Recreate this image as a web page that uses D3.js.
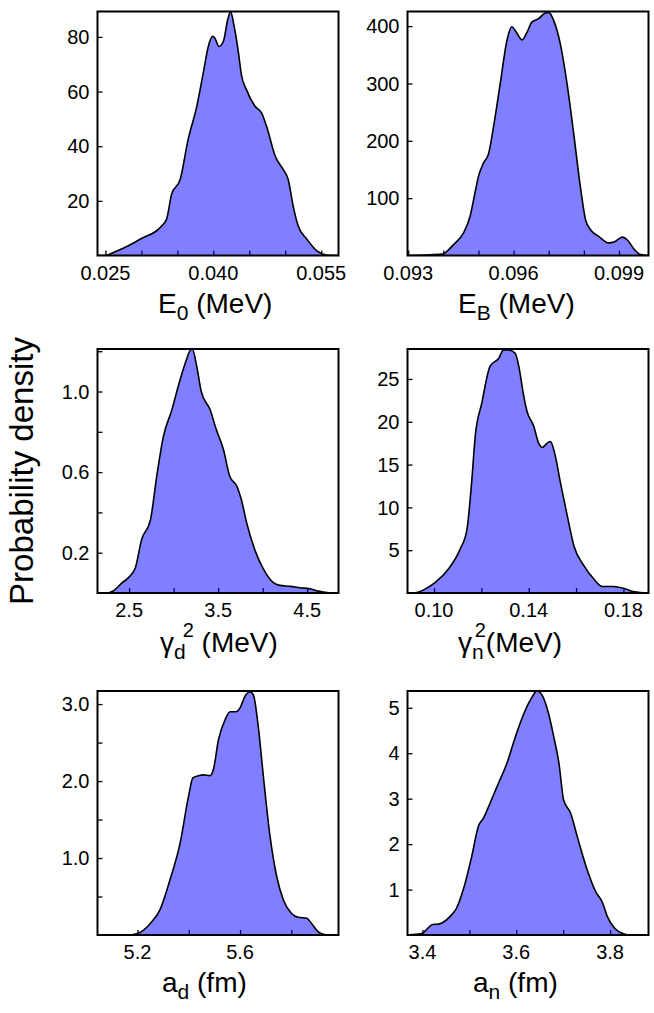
<!DOCTYPE html>
<html><head><meta charset="utf-8">
<script src="https://cdn.jsdelivr.net/npm/d3@7"></script>
<style>
body{margin:0;background:#fff}
text{font-family:"Liberation Sans",Arial,Helvetica,sans-serif;fill:#000}
</style>
</head><body>
<svg id="chart" width="654" height="1013"></svg>
<script>
// ---------- data ----------
const e0X = [0.0239,0.0250,0.0261,0.0277,0.0300,0.0326,0.0335,0.0342,0.0354,0.0365,0.0377,0.0386,0.0393,0.0399,0.0402,0.0408,0.0414,0.0420,0.0424,0.0429,0.0435,0.0439,0.0446,0.0458,0.0467,0.0474,0.0486,0.0497,0.0504,0.0511,0.0518,0.0530,0.0544,0.0557,0.0574];
const e0Y = [0,0,1.1,2.9,6.2,10.2,13.3,22.4,27.9,42.5,54.6,66.8,76.5,80.2,79.6,76.5,78.4,86.3,89.2,83.8,74.1,66.2,60.7,54.6,52.2,47.3,36.4,31.5,27.9,18.1,10.8,6.0,1.7,0.2,0];

const ebX = [0.09298,0.0939,0.0940,0.09429,0.09457,0.09476,0.0949,0.0950,0.09514,0.09529,0.09543,0.09562,0.09581,0.09595,0.09605,0.09624,0.09638,0.09652,0.09671,0.09690,0.0970,0.09714,0.09733,0.09752,0.09771,0.0979,0.09805,0.09819,0.09843,0.09871,0.09886,0.0991,0.09924,0.09943,0.09962,0.09984];
const ebY = [0,2,3,19,39,68,109,138,161,178,225,300,375,399,392,376,389,407,413,423,424,410,369,300,213,120,62,45,33,22,23.5,32,27,11,1.5,0];

const gdX = [2.15,2.25,2.32,2.42,2.51,2.57,2.64,2.74,2.81,2.885,2.98,3.05,3.13,3.19,3.21,3.26,3.31,3.41,3.48,3.56,3.63,3.71,3.76,3.82,3.91,4.01,4.12,4.19,4.31,4.42,4.53,4.62,4.72,4.85];
const gdY = [0,0,0.01,0.05,0.084,0.125,0.265,0.364,0.579,0.777,0.909,1.024,1.14,1.206,1.21,1.123,1.0,0.909,0.81,0.711,0.579,0.53,0.464,0.348,0.216,0.117,0.051,0.038,0.033,0.026,0.021,0.01,0.002,0];

const gnX = [0.0888,0.0891,0.0927,0.0962,0.1004,0.1061,0.1110,0.1139,0.1160,0.1174,0.1202,0.1237,0.1273,0.1294,0.1315,0.1343,0.1358,0.1379,0.1393,0.1421,0.1442,0.1457,0.1478,0.1492,0.1509,0.1534,0.1563,0.1591,0.1633,0.1676,0.1711,0.1760,0.1803,0.1845,0.1906];
const gnY = [0,0,0.06,0.45,1.2,2.8,5.1,7.4,13.3,18.3,22.2,26.5,27.4,28.4,28.4,28.0,26.5,23.0,21.2,19.5,17.5,17.0,17.5,17.7,16.4,12.9,9.0,5.5,3.2,1.6,0.76,0.76,0.52,0.14,0];

const adX = [5.044,5.158,5.200,5.250,5.288,5.327,5.366,5.399,5.416,5.438,5.457,5.483,5.496,5.516,5.542,5.561,5.584,5.600,5.619,5.639,5.652,5.671,5.691,5.717,5.743,5.769,5.801,5.827,5.860,5.879,5.905,5.938,5.984];
const adY = [0,0,0.02,0.15,0.33,0.72,1.19,1.80,2.04,2.07,2.08,2.07,2.15,2.54,2.80,2.90,2.90,2.95,3.10,3.16,3.12,2.71,2.06,1.28,0.76,0.455,0.28,0.23,0.217,0.15,0.04,0,0];

const anX = [3.368,3.398,3.4086,3.421,3.434,3.444,3.459,3.473,3.487,3.505,3.519,3.530,3.544,3.562,3.580,3.598,3.616,3.634,3.644,3.655,3.669,3.680,3.691,3.701,3.716,3.730,3.751,3.769,3.784,3.794,3.809,3.823,3.844,3.882];
const anY = [0,0.03,0.12,0.23,0.24,0.28,0.41,0.60,1.0,1.73,2.39,2.57,2.9,3.34,3.78,4.36,4.87,5.24,5.37,5.28,4.87,4.36,3.78,2.97,2.68,2.17,1.44,0.96,0.71,0.41,0.16,0.05,0,0];

// axis domains
const e0Dom = [0.0239,0.0574], e0YDom = [0,89.3];
const ebDom = [0.09298,0.09984], ebYDom = [0,425.5];
const gdDom = [2.145,4.851], gdYDom = [0,1.211];
const gnDom = [0.0888,0.1906], gnYDom = [0,28.5];
const adDom = [5.044,5.984], adYDom = [0,3.17];
const anDom = [3.368,3.882], anYDom = [0,5.37];

// ticks (all marks) and labelled ticks
const e0XTicks = [0.025,0.030,0.035,0.040,0.045,0.050,0.055], e0XLab = [0.025,0.040,0.055];
const e0YTicks = [20,40,60,80], e0YLab = [20,40,60,80];
const ebXTicks = [0.093,0.094,0.095,0.096,0.097,0.098,0.099], ebXLab = [0.093,0.096,0.099];
const ebYTicks = [100,200,300,400], ebYLab = [100,200,300,400];
const gdXTicks = [2.5,3.0,3.5,4.0,4.5], gdXLab = [2.5,3.5,4.5];
const gdYTicks = [0.2,0.4,0.6,0.8,1.0,1.2], gdYLab = [0.2,0.6,1.0];
const gnXTicks = [0.10,0.12,0.14,0.16,0.18], gnXLab = [0.10,0.14,0.18];
const gnYTicks = [5,10,15,20,25], gnYLab = [5,10,15,20,25];
const adXTicks = [5.2,5.4,5.6,5.8], adXLab = [5.2,5.6];
const adYTicks = [0.5,1.0,1.5,2.0,2.5,3.0], adYLab = [1.0,2.0,3.0];
const anXTicks = [3.4,3.5,3.6,3.7,3.8], anXLab = [3.4,3.6,3.8];
const anYTicks = [1,2,3,4,5], anYLab = [1,2,3,4,5];

// axis titles: [text, role] with role n=normal, sub, sup
const e0Title = [["E","n"],["0","sub"],[" (MeV)","n"]];
const ebTitle = [["E","n"],["B","sub"],[" (MeV)","n"]];
const gdTitle = [["γ","n"],["d","sub"],["2","sup"],[" (MeV)","n"]];
const gnTitle = [["γ","n"],["n","sub"],["2","supback"],["(MeV)","n"]];
const adTitle = [["a","n"],["d","sub"],[" (fm)","n"]];
const anTitle = [["a","n"],["n","sub"],[" (fm)","n"]];
const yTitle = "Probability density";

// ---------- layout ----------
const colX = [97.5, 407.5], panelW = 241;
const rowY = [11.5, 349, 691], panelH = 244;
const titleStart = [158, 458, 160, 458, 162, 473];
const titleDrop = [57, 57, 59, 59, 57, 57];
const tickFont = 20;

const panels = [
  {xs:e0X, ys:e0Y, xd:e0Dom, yd:e0YDom, xt:e0XTicks, xl:e0XLab, xf:".3f", yt:e0YTicks, yl:e0YLab, yf:"d", title:e0Title},
  {xs:ebX, ys:ebY, xd:ebDom, yd:ebYDom, xt:ebXTicks, xl:ebXLab, xf:".3f", yt:ebYTicks, yl:ebYLab, yf:"d", title:ebTitle},
  {xs:gdX, ys:gdY, xd:gdDom, yd:gdYDom, xt:gdXTicks, xl:gdXLab, xf:".1f", yt:gdYTicks, yl:gdYLab, yf:".1f", title:gdTitle},
  {xs:gnX, ys:gnY, xd:gnDom, yd:gnYDom, xt:gnXTicks, xl:gnXLab, xf:".2f", yt:gnYTicks, yl:gnYLab, yf:"d", title:gnTitle},
  {xs:adX, ys:adY, xd:adDom, yd:adYDom, xt:adXTicks, xl:adXLab, xf:".1f", yt:adYTicks, yl:adYLab, yf:".1f", title:adTitle},
  {xs:anX, ys:anY, xd:anDom, yd:anYDom, xt:anXTicks, xl:anXLab, xf:".1f", yt:anYTicks, yl:anYLab, yf:"d", title:anTitle}
];

const svg = d3.select("#chart");

panels.forEach((p, i) => {
  const x0 = colX[i % 2], y0 = rowY[Math.floor(i / 2)];
  const g = svg.append("g").attr("transform", `translate(${x0},${y0})`);
  const x = d3.scaleLinear().domain(p.xd).range([0, panelW]);
  const y = d3.scaleLinear().domain(p.yd).range([panelH, 0]);
  const fx = d3.format(p.xf), fy = d3.format(p.yf);

  const clipId = "clip" + i;
  g.append("clipPath").attr("id", clipId).append("rect")
    .attr("width", panelW).attr("height", panelH);

  // tick marks only (drawn first so the translucent fill tints them)
  const xa = d3.axisBottom(x).tickValues(p.xt).tickSizeInner(-5).tickSizeOuter(0).tickFormat("");
  const ya = d3.axisLeft(y).tickValues(p.yt).tickSizeInner(-5).tickSizeOuter(0).tickFormat("");
  const gx = g.append("g").attr("transform", `translate(0,${panelH})`).call(xa);
  const gy = g.append("g").call(ya);
  [gx, gy].forEach(a => {
    a.select(".domain").remove();
    a.selectAll("text").remove();
    a.selectAll("line").attr("stroke", "#000").attr("stroke-width", 1.3);
  });

  // tick labels positioned by the scales
  g.selectAll("text.xl").data(p.xl).join("text").attr("class", "xl")
    .attr("x", d => x(d)).attr("y", panelH + 10 + tickFont * 0.72)
    .attr("text-anchor", "middle").style("font-size", tickFont + "px").text(d => fx(d));
  g.selectAll("text.yl").data(p.yl).join("text").attr("class", "yl")
    .attr("x", -8).attr("y", d => y(d) + tickFont * 0.36)
    .attr("text-anchor", "end").style("font-size", tickFont + "px").text(d => fy(d));

  const data = p.xs.map((v, k) => [v, p.ys[k]]);
  const area = d3.area().x(d => x(d[0])).y0(y(0)).y1(d => y(d[1])).curve(d3.curveMonotoneX);
  const line = d3.line().x(d => x(d[0])).y(d => y(d[1])).curve(d3.curveMonotoneX);
  const cg = g.append("g").attr("clip-path", `url(#${clipId})`);
  cg.append("path").datum(data).attr("d", area).attr("fill", "rgb(0,0,255)").attr("fill-opacity", 0.5);
  cg.append("path").datum(data).attr("d", line).attr("fill", "none").attr("stroke", "#000").attr("stroke-width", 1.6).attr("stroke-linejoin", "round");

  g.append("rect").attr("width", panelW).attr("height", panelH)
    .attr("fill", "none").attr("stroke", "#000").attr("stroke-width", 2);

  // axis title
  const t = svg.append("text").attr("x", titleStart[i]).attr("y", y0 + panelH + titleDrop[i])
    .style("font-size", "28px");
  let shift = 0;
  p.title.forEach(([s, role]) => {
    const ts = t.append("tspan").text(s);
    let target = 0, size = 28;
    if (role === "sub") { target = 7; size = 21; }
    if (role === "sup" || role === "supback") { target = -15; size = 20; }
    if (role === "sup") ts.attr("dx", -3);
    if (role === "supback") ts.attr("dx", -9);
    ts.attr("dy", target - shift).style("font-size", size + "px");
    shift = target;
  });
});

svg.append("text").attr("transform", "translate(33,471) rotate(-90)")
  .attr("text-anchor", "middle").style("font-size", "33px").text(yTitle);
</script>
</body></html>
